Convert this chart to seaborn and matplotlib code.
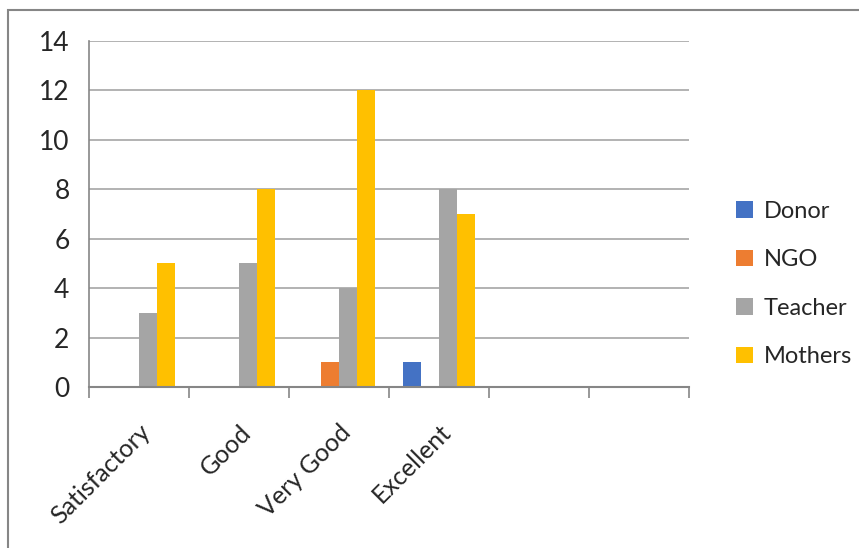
import matplotlib
matplotlib.use("Agg")
import matplotlib.pyplot as plt
import seaborn as sns
import pandas as pd
from matplotlib.patches import Rectangle, Patch

categories = ["Satisfactory", "Good", "Very Good", "Excellent"]
extra_slots = ["", ""]
series = ["Donor", "NGO", "Teacher", "Mothers"]
donor = [0, 0, 0, 1]
ngo = [0, 0, 1, 0]
teacher = [3, 5, 4, 8]
mothers = [5, 8, 12, 7]
colors = ["#4472C4", "#ED7D31", "#A5A5A5", "#FFC000"]
yticks = [0, 2, 4, 6, 8, 10, 12, 14]

rows = []
for s, vals in zip(series, [donor, ngo, teacher, mothers]):
    for c, v in zip(categories, vals):
        rows.append({"cat": c, "series": s, "value": v})
df = pd.DataFrame(rows)

sns.set_style("white")
plt.rcParams["font.family"] = ["Lato", "DejaVu Sans"]

fig = plt.figure(figsize=(8.59, 5.48), dpi=100)
ax = fig.add_axes([89/859, 1-387/548, 600/859, 346/548])

order = categories + ["slot5", "slot6"]
sns.barplot(data=df, x="cat", y="value", hue="series", order=order,
            hue_order=series, palette=colors, width=0.72, ax=ax,
            saturation=1, legend=False, linewidth=0, errorbar=None)

ax.set_xlim(-0.5, 5.5)
ax.set_ylim(0, 14)
ax.set_yticks(yticks)
ax.set_yticklabels([str(v) for v in yticks], fontsize=19)
ax.set_xlabel("")
ax.set_ylabel("")

# category boundary ticks, labels at centers
ax.set_xticks([i - 0.5 for i in range(7)])
ax.set_xticklabels([""] * 7)
ax.set_xticks(range(6), minor=True)
ax.set_xticklabels(categories + extra_slots, minor=True, rotation=45,
                   ha="right", va="top", rotation_mode="anchor", fontsize=18)
ax.tick_params(axis="x", which="minor", length=0, pad=24)
ax.tick_params(axis="x", which="major", length=8, color="#868686", width=1.2, direction="out")
ax.tick_params(axis="y", length=8, color="#a6a6a6", width=1.2, direction="out", pad=6)
ax.tick_params(axis="x", which="both", bottom=True)

ax.yaxis.grid(True, color="#a6a6a6", linewidth=1.2)
ax.set_axisbelow(True)
for side in ["top", "right"]:
    ax.spines[side].set_visible(False)
ax.spines["left"].set_color("#868686")
ax.spines["left"].set_linewidth(1.2)
ax.spines["bottom"].set_color("#868686")
ax.spines["bottom"].set_linewidth(1.5)

handles = [Patch(facecolor=c, edgecolor="none") for c in colors]
fig.legend(handles, series, loc="center left", bbox_to_anchor=(715/859, 1-284/548),
           frameon=False, fontsize=17, handlelength=0.7, handleheight=0.7,
           handletextpad=0.45, labelspacing=1.16)

fig.patches.append(Rectangle((8/859, -0.05), 1.0, 1 - 10/548 + 0.05,
                             transform=fig.transFigure, fill=False,
                             edgecolor="#868686", linewidth=1.5))

fig.savefig("out.png", dpi=100)
